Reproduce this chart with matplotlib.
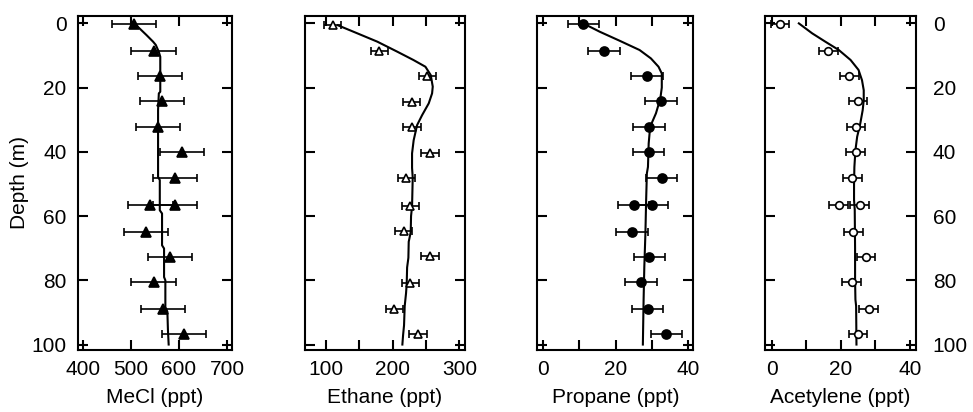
import numpy as np
import matplotlib
matplotlib.use("Agg")
import matplotlib.pyplot as plt
from matplotlib.ticker import MultipleLocator

plt.rcParams['font.family'] = ['Liberation Sans', 'DejaVu Sans']

# firn air sample depths (m); row 8 holds two samples for most gases
depth_pts = [0.2, 8.5, 16.4, 24.3, 32.2, 40.1, 48.1, 56.7, 56.7, 64.9, 72.6, 80.6, 88.8, 96.6]
depth_pts_ethane = [0.5, 8.7, 16.4, 24.4, 32.4, 40.4, 48.3, 56.8, 64.8, 72.5, 80.7, 88.8, 96.6]

mecl_pts = [507, 547, 561, 565, 557, 606, 592, 540.5, 592, 532, 582, 547, 567.5, 610]
mecl_err = 46
ethane_pts = [110, 180, 252, 228.5, 229, 256, 220.5, 226.5, 216.5, 256, 226.5, 202.7, 238]
ethane_err = 13
propane_pts = [11.1, 16.8, 28.6, 32.5, 29.2, 29.1, 32.7, 25.0, 30.0, 24.5, 29.3, 27.0, 28.8, 33.9]
propane_err = 4.3
acetylene_pts = [2.4, 16.4, 22.4, 24.9, 24.4, 24.3, 23.3, 19.4, 25.4, 23.6, 27.3, 23.1, 28.0, 24.9]
acetylene_err = 2.7

# model profiles (depth, mixing ratio)
mecl_curve_d = [0, 1.6, 3.6, 5.7, 6.7, 8.8, 10.4, 14.5, 21.3, 21.8, 27, 37.4, 47.8, 48.8,
                58.2, 59.2, 69.1, 70.1, 79, 80, 88.3, 89.8, 95.6, 100]
mecl_curve_v = [506.6, 518, 532, 546, 551.6, 557.8, 561, 561, 561, 558, 556.4, 556.4, 556.4, 560,
                560, 564.7, 564.7, 568.9, 568.9, 571.6, 571.6, 575.8, 577, 578.5]

ethane_curve_d = [0.6, 3.1, 5.7, 8.8, 11.4, 13.5, 16.1, 19.7, 21.8, 24.9, 28.6, 31.7, 36.4, 40.5,
                  45, 48, 57, 60, 65, 68, 73, 76, 81, 84, 88, 94, 97, 100]
ethane_curve_v = [118, 147, 177, 206.7, 231, 249, 257, 260, 259, 254, 244, 236.5, 231.4, 229,
                  229, 230, 229, 227.5, 227, 224, 223.5, 221.6, 221, 220, 218, 217, 215.6, 214.5]

propane_curve_d = [0, 2.6, 5.4, 8.3, 10.9, 13.5, 15.6, 20, 23.4, 28, 32.2, 37.4, 44.7,
                   46.7, 55, 65.4, 75.8, 86.2, 100]
propane_curve_v = [11.1, 15.65, 21.1, 26.6, 29.7, 31.8, 32.7, 32.7, 32.3, 31.1, 29.5, 29.1, 28.9,
                   28.6, 28.4, 28.2, 27.9, 27.7, 27.5]

acetylene_curve_d = [0, 3.1, 5.7, 8.3, 11.4, 14.5, 17.7, 20.8, 23.9, 27, 31.2, 35.3, 39.5, 44.7,
                     50, 55, 58, 70, 80, 86, 88, 100]
acetylene_curve_v = [7.85, 11.7, 15.5, 19.4, 22.8, 25.1, 26.1, 26.6, 26.6, 26.3, 25.6, 24.7, 24.2, 23.9,
                     23.8, 23.8, 24.0, 24.1, 24.1, 24.2, 24.4, 24.5]

fig = plt.figure(figsize=(9.73, 4.12), dpi=100)

bottom = 0.1505
height = 0.8107
ax1 = fig.add_axes([0.0799, bottom, 0.1583, height])
ax2 = fig.add_axes([0.3135, bottom, 0.1644, height])
ax3 = fig.add_axes([0.5524, bottom, 0.1603, height])
ax4 = fig.add_axes([0.7862, bottom, 0.1552, height])

panels = [
    (ax1, mecl_curve_v, mecl_curve_d, mecl_pts, depth_pts, mecl_err, '^', 'k', 7.5, (389, 710), 'MeCl (ppt)'),
    (ax2, ethane_curve_v, ethane_curve_d, ethane_pts, depth_pts_ethane, ethane_err, '^', 'w', 6, (68.7, 308.3), 'Ethane (ppt)'),
    (ax3, propane_curve_v, propane_curve_d, propane_pts, depth_pts, propane_err, 'o', 'k', 6.5, (-1.45, 41.4), 'Propane (ppt)'),
    (ax4, acetylene_curve_v, acetylene_curve_d, acetylene_pts, depth_pts, acetylene_err, 'o', 'w', 5.5, (-1.94, 41.7), 'Acetylene (ppt)'),
]

for ax, cv, cd, pv, pd, err, mk, fc, ms, xlim, label in panels:
    ax.plot(cv, cd, color='k', lw=1.5, zorder=2)
    ax.errorbar(pv, pd, xerr=err, fmt=mk, mfc=fc, mec='k', mew=1.2, ms=ms,
                ecolor='k', elinewidth=1.2, capsize=2.6, capthick=1.2, zorder=3)
    ax.set_xlim(*xlim)
    ax.set_ylim(101.7, -2.3)
    ax.set_yticks([0, 20, 40, 60, 80, 100])
    ax.set_xlabel(label, fontsize=15, labelpad=7)
    ax.tick_params(which='both', direction='in', length=7, width=1.5, top=True, right=True,
                   labelsize=15)
    ax.tick_params(axis='x', pad=7)
    for sp in ax.spines.values():
        sp.set_linewidth(1.5)

ax1.set_xticks([400, 500, 600, 700])
ax2.set_xticks([100, 200, 300])
ax2.xaxis.set_minor_locator(MultipleLocator(50))
for ax in (ax3, ax4):
    ax.set_xticks([0, 20, 40])
    ax.xaxis.set_minor_locator(MultipleLocator(10))

ax1.tick_params(axis='y', pad=8)
ax1.set_ylabel('Depth (m)', fontsize=15, labelpad=2)
ax2.tick_params(labelleft=False)
ax3.tick_params(labelleft=False)
ax4.tick_params(axis='y', labelleft=False, labelright=True, pad=12)

fig.savefig('out.png', dpi=100)
